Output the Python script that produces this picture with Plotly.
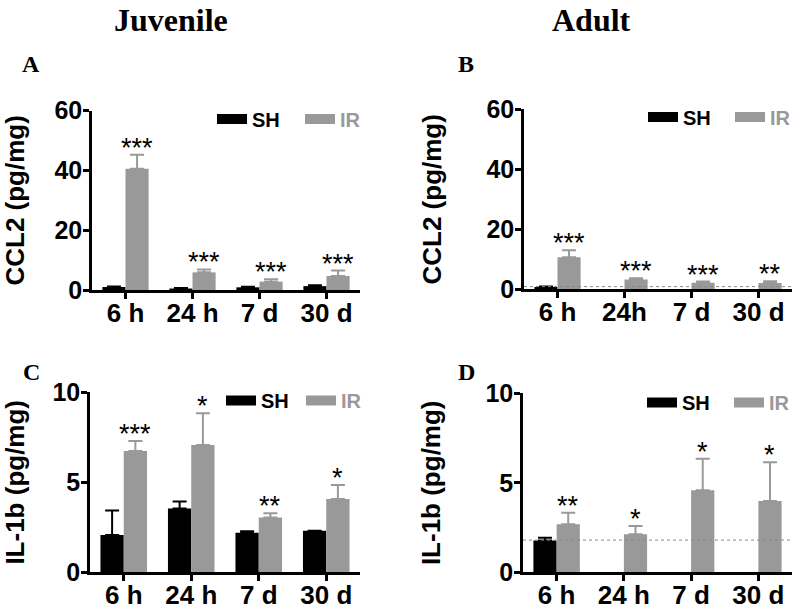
import plotly.graph_objects as go

W, H = 793, 609

times = ["6 h", "24 h", "7 d", "30 d"]
times_b = ["6 h", "24h", "7 d", "30 d"]

# juvenile CCL2 (A)
ccl2_juv_sh = [1.0, 0.5, 0.9, 1.3]
ccl2_juv_sh_err = [0.2, 0.15, 0.15, 0.3]
ccl2_juv_ir = [40.6, 5.9, 2.8, 4.7]
ccl2_juv_ir_err = [4.7, 1.0, 0.8, 1.8]
ccl2_juv_stars = ["***", "***", "***", "***"]

# adult CCL2 (B)
ccl2_adu_sh = [0.8, None, None, None]
ccl2_adu_sh_err = [0.1, 0, 0, 0]
ccl2_adu_ir = [10.7, 3.3, 2.2, 2.1]
ccl2_adu_ir_err = [2.3, 0.4, 0.4, 0.6]
ccl2_adu_stars = ["***", "***", "***", "**"]
ccl2_adu_baseline = 0.9

# juvenile IL-1b (C)
il1b_juv_sh = [2.07, 3.54, 2.2, 2.31]
il1b_juv_sh_err = [1.36, 0.39, 0.08, 0.0]
il1b_juv_ir = [6.74, 7.07, 3.04, 4.07]
il1b_juv_ir_err = [0.56, 1.76, 0.24, 0.78]
il1b_juv_stars = ["***", "*", "**", "*"]

# adult IL-1b (D)
il1b_adu_sh = [1.78, None, None, None]
il1b_adu_sh_err = [0.15, 0, 0, 0]
il1b_adu_ir = [2.69, 2.13, 4.59, 3.98]
il1b_adu_ir_err = [0.64, 0.46, 1.76, 2.17]
il1b_adu_stars = ["**", "*", "*", "*"]
il1b_adu_baseline = 1.8

SH_COLOR = "#000000"
IR_COLOR = "#999999"
SANS = "Liberation Sans, Arial, sans-serif"
SERIF = "Liberation Serif, Times New Roman, serif"
BARGAP = 0.31


def px_x(p):
    return p / W


def px_y(p):
    return 1 - p / H


fig = go.Figure()

panels = [
    # suffix, cats, sh, sh_err, ir, ir_err, stars, baseline, ymax, dtick, ytitle, (x0,x1,ytop,ybot), legend
    ("", times, ccl2_juv_sh, ccl2_juv_sh_err, ccl2_juv_ir, ccl2_juv_ir_err,
     ccl2_juv_stars, None, 60, 20, "CCL2 (pg/mg)", (92, 360, 110.7, 290), (212, 119, 43)),
    ("2", times_b, ccl2_adu_sh, ccl2_adu_sh_err, ccl2_adu_ir, ccl2_adu_ir_err,
     ccl2_adu_stars, ccl2_adu_baseline, 60, 20, "CCL2 (pg/mg)", (524, 792, 109.3, 289.3), (643, 117, 42)),
    ("3", times, il1b_juv_sh, il1b_juv_sh_err, il1b_juv_ir, il1b_juv_ir_err,
     il1b_juv_stars, None, 10, 5, "IL-1b (pg/mg)", (90, 360, 392.3, 572.3), (221, 400.5, 35)),
    ("4", times, il1b_adu_sh, il1b_adu_sh_err, il1b_adu_ir, il1b_adu_ir_err,
     il1b_adu_stars, il1b_adu_baseline, 10, 5, "IL-1b (pg/mg)", (523, 792, 393.3, 572.3), (642, 402.5, 42)),
]

layout = {}
for s, cats, sh, sh_err, ir, ir_err, stars, base, ymax, dtick, ytitle, box, leg in panels:
    xa, ya = "x" + s, "y" + s
    lg = "legend" + s
    err = dict(type="data", symmetric=False, arrayminus=[0] * 4, thickness=2, width=7)
    fig.add_trace(go.Bar(x=cats, y=sh, name="SH", marker_color=SH_COLOR, showlegend=False,
                         error_y=dict(err, array=sh_err, color=SH_COLOR),
                         xaxis=xa, yaxis=ya))
    fig.add_trace(go.Bar(x=cats, y=ir, name="IR", marker_color=IR_COLOR, showlegend=False,
                         error_y=dict(err, array=ir_err, color=IR_COLOR),
                         xaxis=xa, yaxis=ya))
    # legend entries (wide swatches)
    fig.add_trace(go.Scatter(x=[None], y=[None], mode="lines", name="SH",
                             line=dict(color=SH_COLOR, width=10), legend=lg, xaxis=xa, yaxis=ya))
    fig.add_trace(go.Scatter(x=[None], y=[None], mode="lines",
                             name="<span style='color:%s'>IR</span>" % IR_COLOR,
                             line=dict(color=IR_COLOR, width=10), legend=lg, xaxis=xa, yaxis=ya))

    # significance stars over the IR bars
    off = (1 - BARGAP) / 4
    for k, txt in enumerate(stars):
        fig.add_annotation(x=k + off, y=ir[k] + ir_err[k], xref=xa, yref=ya, text=txt,
                           showarrow=False, xanchor="center", yanchor="middle", yshift=7,
                           font=dict(family=SANS, size=27, color="black"))

    if base is not None:
        fig.add_shape(type="line", xref=xa + " domain", yref=ya, x0=0, x1=1, y0=base, y1=base,
                      line=dict(color="#888888", width=1, dash="dot"))

    x0, x1, ytop, ybot = box
    axis_common = dict(showline=True, linecolor="black", linewidth=2.5, ticks="outside",
                       ticklen=6, tickwidth=2.5, tickcolor="black", showgrid=False,
                       zeroline=False, automargin=False)
    layout["xaxis" + s] = dict(axis_common, domain=[px_x(x0), px_x(x1)], anchor=ya,
                               type="category", range=[-0.5, 3.5], ticklabelstandoff=-8,
                               tickfont=dict(family=SANS, size=26, color="black", weight="bold"))
    layout["yaxis" + s] = dict(axis_common, domain=[px_y(ybot), px_y(ytop)], anchor=xa,
                               range=[0, ymax], dtick=dtick, ticklabelstandoff=-4,
                               tickfont=dict(family=SANS, size=25, color="black", weight="bold"),
                               title=dict(text=ytitle, standoff=38,
                                          font=dict(family=SANS, size=26, color="black", weight="bold")))
    lx, ly, ew = leg
    layout[lg] = dict(orientation="h", x=px_x(lx), y=px_y(ly), xanchor="left", yanchor="middle",
                      bgcolor="rgba(0,0,0,0)", itemwidth=30, entrywidth=ew, entrywidthmode="pixels",
                      font=dict(family=SANS, size=20, color="black", weight="bold"))

# column headers and panel letters
for txt, cx in [("Juvenile", 171), ("Adult", 591)]:
    fig.add_annotation(x=px_x(cx), y=1, xref="paper", yref="paper", text="<b>%s</b>" % txt,
                       xanchor="center", yanchor="top", showarrow=False,
                       font=dict(family=SERIF, size=32, color="black"))
for txt, cx, cy in [("A", 31, 64), ("B", 466, 64), ("C", 31, 372), ("D", 466, 372)]:
    fig.add_annotation(x=px_x(cx), y=px_y(cy), xref="paper", yref="paper", text="<b>%s</b>" % txt,
                       xanchor="center", yanchor="middle", showarrow=False,
                       font=dict(family=SERIF, size=24, color="black"))

fig.update_layout(template="none", width=W, height=H,
                  margin=dict(l=0, r=0, t=0, b=0, autoexpand=False),
                  paper_bgcolor="white", plot_bgcolor="white",
                  barmode="group", bargap=BARGAP, bargroupgap=0, **layout)

fig.write_html("out.html", config={"displayModeBar": False},
               post_script="document.body.style.margin = '0';")
